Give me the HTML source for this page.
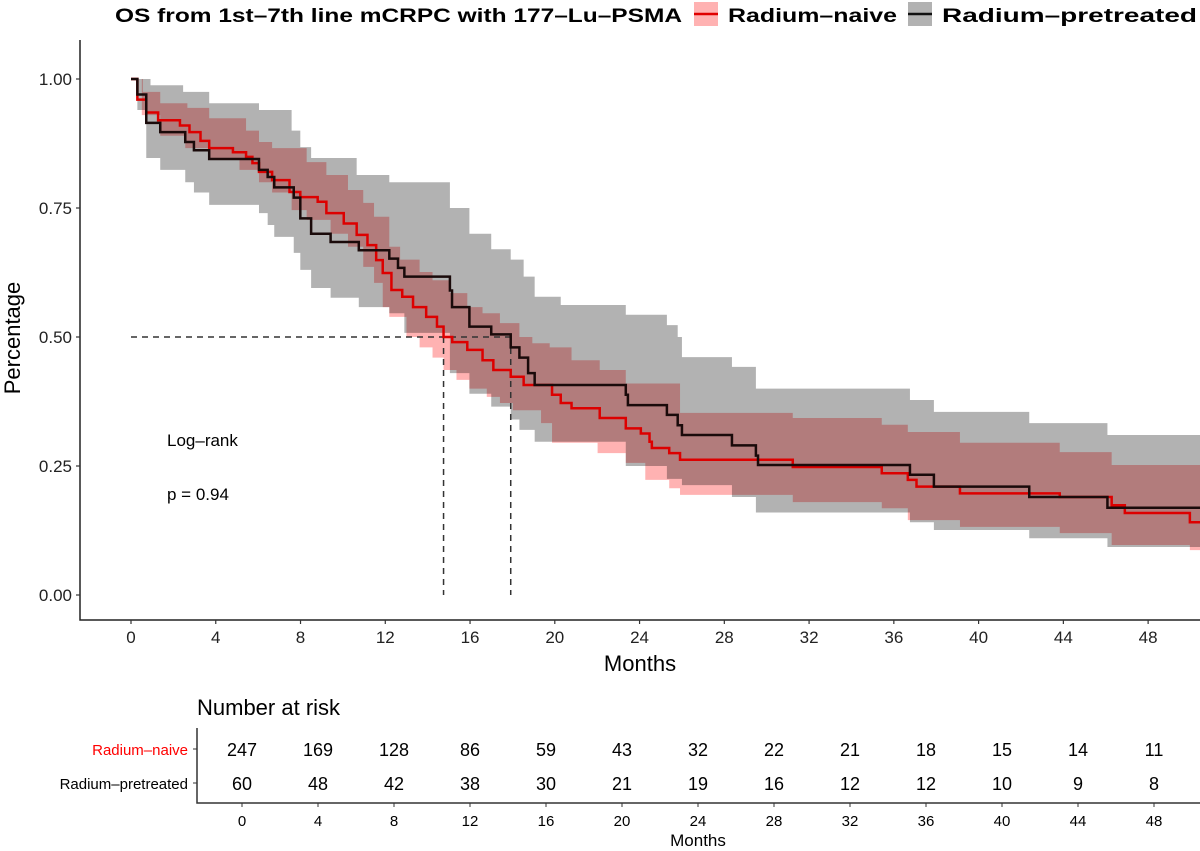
<!DOCTYPE html>
<html><head><meta charset="utf-8"><style>
body{margin:0;background:#fff;width:1200px;height:851px;overflow:hidden}
svg{display:block;font-family:"Liberation Sans",sans-serif}
</style></head><body>
<svg id="chart" width="1200" height="851" viewBox="0 0 1200 851"></svg>
<script>
const months = [0,4,8,12,16,20,24,28,32,36,40,44,48];
const yTicks = [0,0.25,0.5,0.75,1.0];
const yTickLabels = ["0.00","0.25","0.50","0.75","1.00"];
const naiveTimes = [0,0.3,0.72,1.28,2.31,2.76,3.28,3.69,4.81,5.43,5.73,6.04,6.66,7.48,7.99,8.81,9.22,10.04,10.65,11.16,11.57,11.88,12.29,12.8,13.31,13.93,14.44,14.75,15.16,15.87,16.59,17.1,17.92,18.53,19.87,20.28,20.79,22.12,23.35,24.06,24.47,24.58,25.4,25.91,31.23,35.43,36.66,37.07,39.12,43.83,46.28,46.9,49.97];
const naiveSurv = [1,0.96,0.935,0.92,0.91,0.897,0.88,0.866,0.858,0.849,0.837,0.82,0.804,0.781,0.771,0.762,0.74,0.72,0.698,0.678,0.649,0.624,0.591,0.578,0.558,0.539,0.52,0.50,0.49,0.475,0.455,0.436,0.423,0.407,0.388,0.372,0.362,0.343,0.323,0.313,0.297,0.285,0.275,0.262,0.248,0.236,0.223,0.21,0.197,0.19,0.174,0.159,0.141];
const naiveUpTimes = [0,0.56,1.38,2.66,3.69,5.43,6.04,6.66,8.29,9.22,10.24,10.96,11.47,12.19,12.7,13.62,14.23,15.05,15.87,16.59,17.41,18.33,18.94,19.76,20.79,22.12,23.35,25.91,31.23,35.43,36.66,39.12,43.83,46.28];
const naiveUp = [1,0.975,0.953,0.944,0.924,0.90,0.878,0.866,0.839,0.814,0.785,0.76,0.733,0.675,0.65,0.626,0.61,0.585,0.558,0.546,0.527,0.50,0.488,0.48,0.455,0.436,0.41,0.353,0.343,0.33,0.316,0.295,0.277,0.252];
const naiveLoTimes = [0,0.51,1.38,2.56,3.69,5.12,6.04,6.66,7.58,8.29,9.42,10.24,10.96,11.47,11.88,12.19,13.0,13.62,14.23,14.75,15.36,15.97,16.79,17.41,18.02,19.35,19.87,22.02,23.35,24.27,25.4,25.91,31.23,35.43,36.66,39.12,43.83,46.28,49.97];
const naiveLo = [1,0.93,0.89,0.866,0.843,0.824,0.80,0.78,0.746,0.727,0.70,0.675,0.636,0.605,0.558,0.539,0.50,0.48,0.46,0.436,0.417,0.40,0.384,0.372,0.358,0.333,0.295,0.275,0.256,0.223,0.207,0.194,0.18,0.168,0.145,0.132,0.12,0.097,0.087];
const preTimes = [0,0.3,0.72,1.38,2.56,2.97,3.69,6.04,6.45,6.76,7.68,7.99,8.5,9.42,10.75,12.19,12.6,12.9,15.05,15.15,15.97,17.0,17.92,18.33,18.74,19.05,23.35,23.45,25.29,25.8,26.0,28.36,29.49,29.59,36.76,37.89,42.39,46.08];
const preSurv = [1,0.97,0.915,0.897,0.878,0.862,0.845,0.824,0.81,0.79,0.77,0.73,0.70,0.684,0.668,0.652,0.634,0.617,0.59,0.558,0.52,0.505,0.48,0.46,0.43,0.407,0.388,0.368,0.349,0.329,0.31,0.29,0.27,0.252,0.233,0.21,0.19,0.169];
const preUpTimes = [0,0.92,2.46,3.69,6.04,7.58,7.99,8.5,10.65,12.19,15.05,15.97,17.0,17.92,18.53,19.05,20.28,23.35,25.29,25.8,26.0,28.36,29.49,36.76,37.89,42.39,46.08];
const preUp = [1,0.988,0.975,0.953,0.94,0.90,0.868,0.847,0.814,0.80,0.75,0.70,0.67,0.65,0.617,0.578,0.562,0.543,0.523,0.50,0.461,0.442,0.40,0.378,0.355,0.333,0.31];
const preLoTimes = [0,0.3,0.72,1.38,2.56,2.97,3.69,6.04,6.45,6.76,7.68,7.99,8.5,9.42,10.75,12.19,12.9,15.05,15.97,17.0,17.92,18.33,19.05,23.35,25.29,26.0,28.36,29.49,36.76,37.89,42.39,46.08];
const preLo = [1,0.94,0.847,0.824,0.80,0.78,0.756,0.74,0.717,0.694,0.663,0.63,0.595,0.576,0.558,0.546,0.508,0.43,0.39,0.365,0.34,0.32,0.297,0.25,0.225,0.213,0.19,0.16,0.141,0.126,0.11,0.093];
const riskNaive = [247,169,128,86,59,43,32,22,21,18,15,14,11];
const riskPre = [60,48,42,38,30,21,19,16,12,12,10,9,8];

const NS="http://www.w3.org/2000/svg";
const svg=document.getElementById('chart');
const X0=131, PXM=21.19, XEND=1200;
const xs=m=>X0+m*PXM;
const ys=v=>595-v*516;
const tEnd=(XEND-X0)/PXM;
const rx=m=>242+m*19.0;
function el(tag,attrs,parent){const e=document.createElementNS(NS,tag);for(const k in attrs)e.setAttribute(k,attrs[k]);(parent||svg).appendChild(e);return e;}
function txt(s,attrs,parent){const e=el('text',attrs,parent);e.textContent=s;return e;}
function stepPts(t,v){let p=[];for(let i=0;i<t.length;i++){const x=xs(t[i]);if(i>0)p.push([x,ys(v[i-1])]);p.push([x,ys(v[i])]);}p.push([xs(tEnd),ys(v[v.length-1])]);return p;}
function bandPath(ut,uv,lt,lv){const u=stepPts(ut,uv),l=stepPts(lt,lv).reverse();return 'M'+u.map(p=>p.join(',')).join('L')+'L'+l.map(p=>p.join(',')).join('L')+'Z';}

// title & legend
const tt=txt('OS from 1st\u20137th line mCRPC with 177\u2013Lu\u2013PSMA',{x:115,y:22,'font-size':19,'font-weight':'bold',textLength:567,lengthAdjust:'spacingAndGlyphs'});

const lg1=el('g',{});
el('rect',{x:694,y:2,width:24,height:24,fill:'rgba(255,0,0,0.3)'},lg1);
el('line',{x1:694,x2:718,y1:14,y2:14,stroke:'#e00000','stroke-width':2.5},lg1);
txt('Radium\u2013naive',{x:728,y:22,'font-size':19,'font-weight':'bold',textLength:169,lengthAdjust:'spacingAndGlyphs'},lg1);
const lg2=el('g',{});
el('rect',{x:908,y:2,width:24,height:24,fill:'rgba(0,0,0,0.3)'},lg2);
el('line',{x1:908,x2:932,y1:14,y2:14,stroke:'#111','stroke-width':2.5},lg2);
txt('Radium\u2013pretreated',{x:942,y:22,'font-size':19,'font-weight':'bold',textLength:255,lengthAdjust:'spacingAndGlyphs'},lg2);

// bands
const b1=el('path',{d:bandPath(naiveUpTimes,naiveUp,naiveLoTimes,naiveLo),fill:'rgba(255,0,0,0.3)'});

const b2=el('path',{d:bandPath(preUpTimes,preUp,preLoTimes,preLo),fill:'rgba(0,0,0,0.3)'});


// medians
function median(t,v){for(let i=0;i<v.length;i++)if(v[i]<=0.5)return t[i];return null;}
const mN=median(naiveTimes,naiveSurv), mP=median(preTimes,preSurv);
const mx=Math.max(mN,mP);
const mh=el('line',{x1:xs(0),x2:xs(mx),y1:ys(0.5),y2:ys(0.5),stroke:'#333','stroke-width':1.5,'stroke-dasharray':'6,5'});

[mN,mP].forEach(m=>{const l=el('line',{x1:xs(m),x2:xs(m),y1:ys(0.5),y2:ys(0),stroke:'#333','stroke-width':1.5,'stroke-dasharray':'6,5'});
});

// curves
const c1=el('polyline',{points:stepPts(naiveTimes,naiveSurv).map(p=>p.join(',')).join(' '),fill:'none',stroke:'#dd0000','stroke-width':2.5});

const c2=el('polyline',{points:stepPts(preTimes,preSurv).map(p=>p.join(',')).join(' '),fill:'none',stroke:'#1a0a0a','stroke-width':2.5});


// axes
const ax=el('path',{d:'M80,40V620H1200',fill:'none',stroke:'#222','stroke-width':1.5});

yTicks.forEach((v,i)=>{el('line',{x1:76,x2:80,y1:ys(v),y2:ys(v),stroke:'#333','stroke-width':1.2});
const t=txt(yTickLabels[i],{x:72,y:ys(v)+6,'font-size':17,'text-anchor':'end',fill:'#222'});
});
months.forEach(m=>{el('line',{x1:xs(m),x2:xs(m),y1:620,y2:624,stroke:'#333','stroke-width':1.2});
const t=txt(String(m),{x:xs(m),y:643,'font-size':17,'text-anchor':'middle',fill:'#222'});
});
const xt=txt('Months',{x:640,y:671,'font-size':22,'text-anchor':'middle'});

const yt=txt('Percentage',{x:0,y:0,'font-size':22,'text-anchor':'middle',transform:'translate(20,338) rotate(-90)'});

const lr=txt('Log\u2013rank',{x:167,y:446,'font-size':17});

const pv=txt('p = 0.94',{x:167,y:500,'font-size':17});


// risk table
const rt=txt('Number at risk',{x:197,y:715,'font-size':22});

el('path',{d:'M197,728V803H1200',fill:'none',stroke:'#333','stroke-width':1.5});
const rl1=txt('Radium\u2013naive',{x:188,y:755,'font-size':15,'text-anchor':'end',fill:'#ff0000'});

const rl2=txt('Radium\u2013pretreated',{x:188,y:789,'font-size':15,'text-anchor':'end'});

el('line',{x1:193,x2:197,y1:749,y2:749,stroke:'#333'});el('line',{x1:193,x2:197,y1:783,y2:783,stroke:'#333'});
months.forEach((m,i)=>{
const a=txt(String(riskNaive[i]),{x:rx(m),y:756,'font-size':18,'text-anchor':'middle'});

const b=txt(String(riskPre[i]),{x:rx(m),y:790,'font-size':18,'text-anchor':'middle'});

el('line',{x1:rx(m),x2:rx(m),y1:803,y2:807,stroke:'#333'});
const c=txt(String(m),{x:rx(m),y:826,'font-size':15,'text-anchor':'middle'});
});
const rm=txt('Months',{x:698,y:846,'font-size':17,'text-anchor':'middle'});

</script>
</body></html>
